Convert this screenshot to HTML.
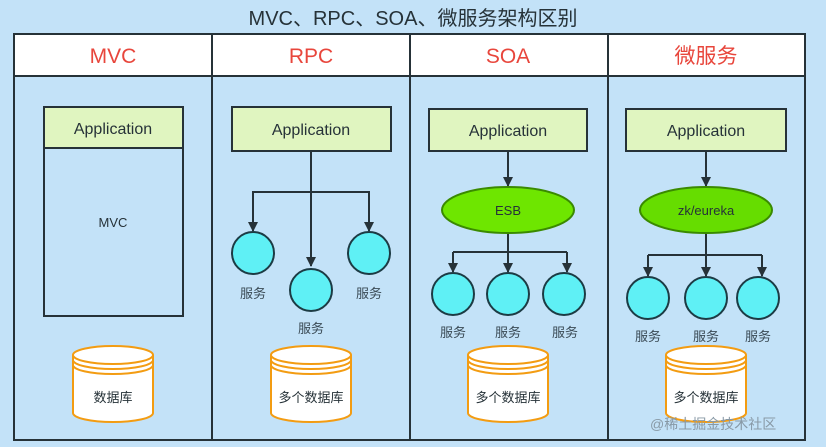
<!DOCTYPE html><html><head><meta charset="utf-8"><style>body{margin:0;background:#c3e2f8}svg{display:block}text{font-family:"Liberation Sans","Noto Sans CJK SC",sans-serif}</style></head><body>
<svg width="826" height="447" viewBox="0 0 826 447">
<defs><marker id="a" markerWidth="10" markerHeight="10" refX="5" refY="9" orient="auto" markerUnits="userSpaceOnUse"><path d="M0,0 L10,0 L5,10Z" fill="#263238" transform="rotate(-90 5 5) "/></marker>
<marker id="b" viewBox="0 0 10 10" markerWidth="10" markerHeight="11" refX="9" refY="5" orient="auto" markerUnits="userSpaceOnUse"><path d="M0,0 L10,5 L0,10Z" fill="#263238"/></marker>
<g id="db"><path d="M-40,-30 v58 a40,9 0 0 0 80,0 v-58" fill="#fff" stroke="#f39c12" stroke-width="2"/><ellipse cx="0" cy="-30" rx="40" ry="9" fill="#fff" stroke="#f39c12" stroke-width="2"/><path d="M-40,-25 a40,9 0 0 0 80,0 M-40,-20 a40,9 0 0 0 80,0" fill="none" stroke="#f39c12" stroke-width="2"/></g>
<circle id="c" r="21" fill="#5ff0f5" stroke="#1c3b44" stroke-width="2"/>
</defs>
<rect width="826" height="447" fill="#c3e2f8"/>
<text x="413" y="25" font-size="20" text-anchor="middle" fill="#263238">MVC、RPC、SOA、微服务架构区别</text>
<rect x="14" y="34" width="791" height="42" fill="#fff"/>
<rect x="14" y="34" width="791" height="406" fill="none" stroke="#263238" stroke-width="2"/>
<line x1="14" y1="76" x2="805" y2="76" stroke="#263238" stroke-width="2"/>
<g stroke="#263238" stroke-width="2"><line x1="212" y1="34" x2="212" y2="440"/><line x1="410" y1="34" x2="410" y2="440"/><line x1="608" y1="34" x2="608" y2="440"/></g>
<g font-size="21" fill="#e8463c" text-anchor="middle"><text x="113" y="63">MVC</text><text x="311" y="63">RPC</text><text x="508" y="63">SOA</text><text x="706" y="63">微服务</text></g>
<g fill="#e0f5c0" stroke="#263238" stroke-width="2"><rect x="44" y="107" width="139" height="41"/><rect x="232" y="107" width="159" height="44"/><rect x="429" y="109" width="158" height="42"/><rect x="626" y="109" width="160" height="42"/></g>
<rect x="44" y="148" width="139" height="168" fill="none" stroke="#263238" stroke-width="2"/>
<g font-size="16" fill="#263238" text-anchor="middle"><text x="113" y="134">Application</text><text x="311" y="135">Application</text><text x="508" y="136">Application</text><text x="706" y="136">Application</text></g>
<text x="113" y="227" font-size="13" text-anchor="middle" fill="#263238">MVC</text>
<g stroke="#263238" stroke-width="2" fill="none">
<path d="M311,151 V266" marker-end="url(#b)"/><path d="M253,230 V192 H369 V230" /><path d="M253,192 V231" marker-end="url(#b)"/><path d="M369,192 V231" marker-end="url(#b)"/>
<path d="M508,151 V186" marker-end="url(#b)"/><path d="M508,233 V272" marker-end="url(#b)"/><path d="M453,252 H567"/><path d="M453,252 V272" marker-end="url(#b)"/><path d="M567,252 V272" marker-end="url(#b)"/>
<path d="M706,151 V186" marker-end="url(#b)"/><path d="M706,233 V276" marker-end="url(#b)"/><path d="M648,255 H762"/><path d="M648,255 V276" marker-end="url(#b)"/><path d="M762,255 V276" marker-end="url(#b)"/>
</g>
<ellipse cx="508" cy="210" rx="66" ry="23" fill="#6ee600" stroke="#3a8a00" stroke-width="2"/>
<ellipse cx="706" cy="210" rx="66" ry="23" fill="#66dd00" stroke="#3a8a00" stroke-width="2"/>
<g font-size="13" fill="#263238" text-anchor="middle"><text x="508" y="215">ESB</text><text x="706" y="215">zk/eureka</text></g>
<use href="#c" x="253" y="253"/><use href="#c" x="311" y="290"/><use href="#c" x="369" y="253"/>
<use href="#c" x="453" y="294"/><use href="#c" x="508" y="294"/><use href="#c" x="564" y="294"/>
<use href="#c" x="648" y="298"/><use href="#c" x="706" y="298"/><use href="#c" x="758" y="298"/>
<g font-size="13" fill="#3a4a55" text-anchor="middle"><text x="253" y="298">服务</text><text x="311" y="333">服务</text><text x="369" y="298">服务</text>
<text x="453" y="337">服务</text><text x="508" y="337">服务</text><text x="565" y="337">服务</text>
<text x="648" y="341">服务</text><text x="706" y="341">服务</text><text x="758" y="341">服务</text></g>
<use href="#db" x="113" y="385"/><use href="#db" x="311" y="385"/><use href="#db" x="508" y="385"/><use href="#db" x="706" y="385"/>
<g font-size="13" fill="#263238" text-anchor="middle"><text x="113" y="402">数据库</text><text x="311" y="402">多个数据库</text><text x="508" y="402">多个数据库</text><text x="706" y="402">多个数据库</text></g>
<text x="650" y="429" font-size="14" fill="#8899a6">@稀土掘金技术社区</text>
</svg></body></html>
